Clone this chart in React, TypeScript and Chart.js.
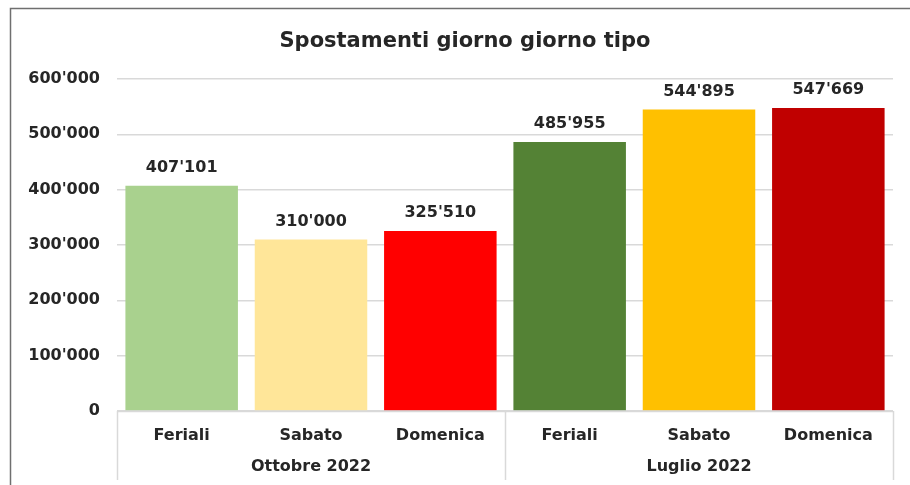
import React, { useEffect, useRef } from "react";
import { Chart, registerables } from "chart.js";

Chart.register(...registerables);

const categories = ["Feriali", "Sabato", "Domenica", "Feriali", "Sabato", "Domenica"];
const groups = ["Ottobre 2022", "Luglio 2022"];
const groupSize = [3, 3];
const values = [407101, 310000, 325510, 485955, 544895, 547669];
const barColors = ["#a9d18e", "#ffe699", "#ff0000", "#548235", "#ffc000", "#c00000"];
const title = "Spostamenti giorno giorno tipo";
const yMin = 0;
const yMax = 600000;
const yStep = 100000;

const FONT = "'DejaVu Sans', sans-serif";
const TEXT = "#262626";
const GRID = "#d9d9d9";

const fmt = (v: number) => String(Math.round(v)).replace(/\B(?=(\d{3})+(?!\d))/g, "'");

const decorPlugin = {
  id: "decor",
  beforeDraw(chart: any) {
    const ctx = chart.ctx;
    ctx.save();
    ctx.fillStyle = "#ffffff";
    ctx.fillRect(0, 0, chart.width, chart.height);
    ctx.restore();
  },
  afterDraw(chart: any) {
    const ctx = chart.ctx;
    const area = chart.chartArea;
    ctx.save();
    // frame
    ctx.strokeStyle = "#6f6f6f";
    ctx.lineWidth = 1.5;
    ctx.beginPath();
    ctx.moveTo(10.5, chart.height);
    ctx.lineTo(10.5, 8.5);
    ctx.lineTo(chart.width, 8.5);
    ctx.stroke();
    // title
    ctx.fillStyle = TEXT;
    ctx.font = `bold 21px ${FONT}`;
    ctx.textAlign = "center";
    ctx.textBaseline = "middle";
    ctx.fillText(title, 465, 42);
    // group separators and labels
    ctx.strokeStyle = GRID;
    ctx.lineWidth = 1.5;
    const catW = (area.right - area.left) / categories.length;
    let start = 0;
    const bounds: number[] = [area.left];
    groups.forEach((g, i) => {
      const end = start + groupSize[i];
      const x0 = area.left + start * catW;
      const x1 = area.left + end * catW;
      bounds.push(x1);
      ctx.font = `bold 16px ${FONT}`;
      ctx.fillStyle = TEXT;
      ctx.textAlign = "center";
      ctx.textBaseline = "middle";
      ctx.fillText(g, (x0 + x1) / 2, 467);
      start = end;
    });
    ctx.beginPath();
    bounds.forEach((b) => {
      ctx.moveTo(Math.round(b) + 0.5, area.bottom);
      ctx.lineTo(Math.round(b) + 0.5, 480);
    });
    ctx.moveTo(area.left, area.bottom + 0.5);
    ctx.lineTo(area.right, area.bottom + 0.5);
    ctx.stroke();
    // value labels
    const meta = chart.getDatasetMeta(0);
    ctx.font = `bold 16px ${FONT}`;
    ctx.fillStyle = TEXT;
    ctx.textAlign = "center";
    ctx.textBaseline = "middle";
    meta.data.forEach((el: any, i: number) => {
      ctx.fillText(fmt(values[i]), el.x, el.y - 18);
    });
    ctx.restore();
  },
};

export default function App() {
  const ref = useRef<HTMLCanvasElement | null>(null);
  useEffect(() => {
    if (!ref.current) return;
    const chart = new Chart(ref.current, {
      type: "bar",
      data: {
        labels: categories,
        datasets: [
          {
            data: values,
            backgroundColor: barColors,
            borderWidth: 0,
            barPercentage: 0.87,
            categoryPercentage: 1,
          },
        ],
      },
      options: {
        animation: false,
        responsive: false,
        maintainAspectRatio: false,
        layout: { padding: { left: 0, right: 17, top: 79, bottom: 0 } },
        plugins: { legend: { display: false }, tooltip: { enabled: false }, title: { display: false } },
        scales: {
          x: {
            grid: { display: false },
            border: { display: false },
            ticks: { color: TEXT, font: { family: FONT, size: 16, weight: "bold" }, padding: 7, maxRotation: 0 },
            afterFit: (s: any) => {
              s.height = 74;
            },
          },
          y: {
            min: yMin,
            max: yMax,
            grid: { color: GRID, lineWidth: 1.5, drawTicks: false },
            border: { display: false },
            ticks: {
              stepSize: yStep,
              color: TEXT,
              font: { family: FONT, size: 16, weight: "bold" },
              padding: 17,
              callback: (v: any) => fmt(Number(v)),
            },
            afterFit: (s: any) => {
              s.width = 117;
            },
          },
        },
      },
      plugins: [decorPlugin],
    } as any);
    return () => chart.destroy();
  }, []);
  return (
    <div style={{ position: "absolute", left: 0, top: 0, width: 910, height: 485 }}>
      <canvas ref={ref} width={910} height={485} style={{ display: "block" }} />
    </div>
  );
}
